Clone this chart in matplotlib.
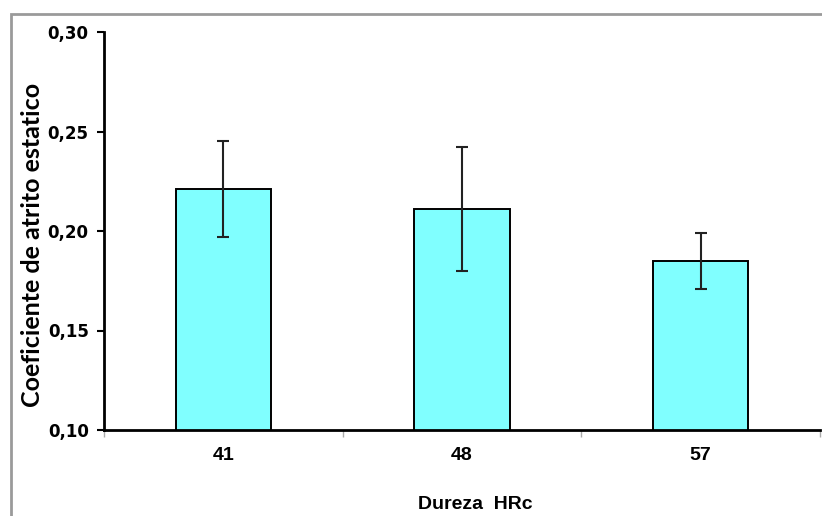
import matplotlib
matplotlib.use("Agg")
import matplotlib.pyplot as plt
from matplotlib.patches import Rectangle
import numpy as np

plt.rcParams['font.family'] = ['Liberation Sans', 'DejaVu Sans']

categories = ["41", "48", "57"]
means = [0.221, 0.211, 0.185]
errors = [0.024, 0.031, 0.014]
y_ticks = [0.10, 0.15, 0.20, 0.25, 0.30]
y_tick_labels = ["0,10", "0,15", "0,20", "0,25", "0,30"]

W, H = 822, 516
fig = plt.figure(figsize=(W / 100, H / 100), dpi=100)

# grey outer frame (only left and top edges fall inside the canvas)
fig.patches.append(Rectangle((10.5 / W, -0.1), 1.0, 1.1 - 14 / H, transform=fig.transFigure,
                             fill=False, edgecolor="#9a9a9a", linewidth=2.0))

ax = fig.add_axes([104 / W, (H - 430) / H, (820 - 104) / W, (430 - 32) / H])

x = np.arange(len(categories))
ax.bar(x, means, width=0.4, color="#80ffff", edgecolor="black", linewidth=1.4,
       yerr=errors, error_kw=dict(ecolor="#222222", elinewidth=1.5, capsize=4.3, capthick=1.5),
       zorder=2)

ax.set_xlim(-0.5, len(categories) - 0.5)
ax.set_ylim(0.10, 0.30)
ax.set_yticks(y_ticks)
ax.set_yticklabels(y_tick_labels, fontsize=12, fontweight="bold", family="DejaVu Sans")

ax.set_xticks(x)
ax.set_xticklabels(categories, fontsize=14, fontweight="bold")
ax.tick_params(axis="x", length=0, pad=12)
ax.set_xticks(np.arange(len(categories) + 1) - 0.5, minor=True)
ax.tick_params(axis="x", which="minor", length=5, color="#aaaaaa", width=1)
ax.tick_params(axis="y", length=5, width=1.5, direction="out", pad=6)

for s in ["top", "right"]:
    ax.spines[s].set_visible(False)
ax.spines["left"].set_linewidth(2)
ax.spines["bottom"].set_linewidth(2)

ax.set_ylabel("Coeficiente de atrito estatico", fontsize=18, fontweight="bold",
              family=["Lato", "DejaVu Sans"])
ax.yaxis.set_label_coords(44 / W, (H - 245) / H, transform=fig.transFigure)
ax.set_xlabel("Dureza  HRc", fontsize=14, fontweight="bold")
ax.xaxis.set_label_coords(475 / W, (H - 496) / H, transform=fig.transFigure)

fig.savefig("out.png", dpi=100)
